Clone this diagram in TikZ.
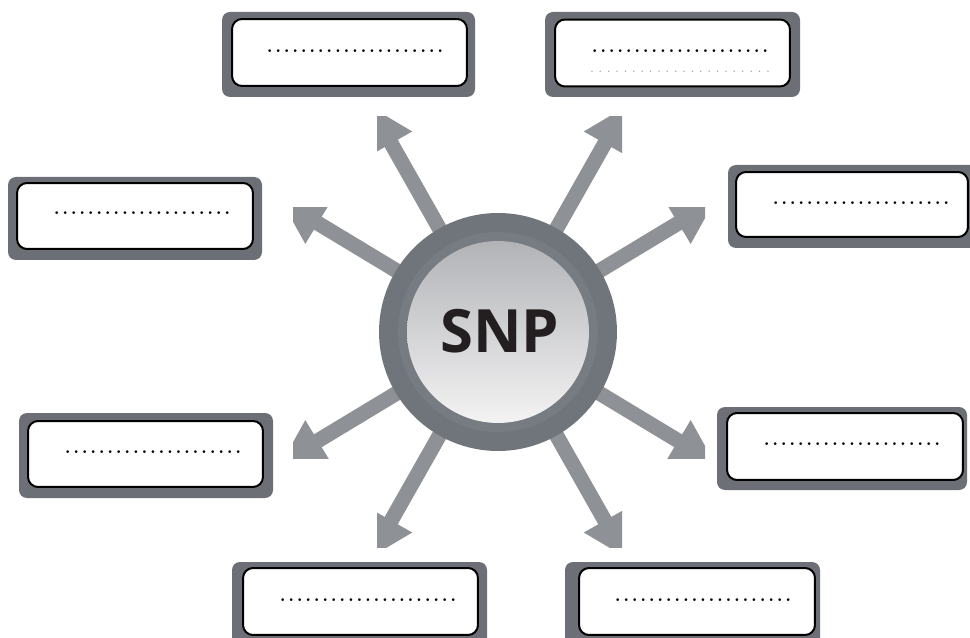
\documentclass[tikz,border=0pt]{standalone}
\usepackage{fontspec}
\newfontfamily\snpfont{Open Sans}
\usetikzlibrary{arrows.meta}
\definecolor{framegray}{HTML}{6C6F75}
\definecolor{arrowgray}{HTML}{8E9195}
\definecolor{ringdark}{HTML}{70747B}
\definecolor{ringmid}{HTML}{777B82}
\definecolor{snpink}{HTML}{231F20}
\definecolor{faintdot}{HTML}{9A9A9A}
\newcommand\mydotrow{\makebox[3.58cm]{.\hfill.\hfill.\hfill.\hfill.\hfill.\hfill.\hfill.\hfill.\hfill.\hfill.\hfill.\hfill.\hfill.\hfill.\hfill.\hfill.\hfill.\hfill.\hfill.\hfill.}}
\begin{document}
\begin{tikzpicture}[x=0.02cm,y=-0.02cm,
  outerframe/.style={fill=framegray, rounded corners=0.16cm},
  fieldbox/.style={draw=black, line width=0.04cm, fill=white, rounded corners=0.2cm, inner sep=0pt},
  dotrow/.style={font=\fontsize{19}{20}\selectfont, inner sep=0pt, text=black},
  faintrow/.style={font=\fontsize{7}{8}\selectfont, inner sep=0pt, text=faintdot},
  ray/.style={draw=arrowgray, line width=0.3cm, -{Triangle[length=0.86cm,width=0.9cm]}}]
\useasboundingbox (0,0) rectangle (970,638);

% ---------- arrows ----------
\coordinate (c) at (498,332);
\coordinate (ul) at (370,106);
\coordinate (ur) at (626,106);
\coordinate (dl) at (370,558);
\coordinate (dr) at (626,558);
\coordinate (lu) at (281,201);
\coordinate (ru) at (715,201);
\coordinate (ll) at (281,463);
\coordinate (rl) at (715,463);
\begin{scope}
  \clip (377,117) rectangle (622,547);
  \draw[ray] (c) -- (ul);
  \draw[ray] (c) -- (ur);
  \draw[ray] (c) -- (dl);
  \draw[ray] (c) -- (dr);
\end{scope}
\begin{scope}
  \clip (293,208) rectangle (705,458);
  \draw[ray] (c) -- (lu);
  \draw[ray] (c) -- (ru);
  \draw[ray] (c) -- (ll);
  \draw[ray] (c) -- (rl);
\end{scope}

% ---------- central circle ----------
\fill[ringdark] (c) circle[radius=2.38cm];
\fill[ringmid] (c) circle[radius=2.0cm];
\shade[top color={rgb,255:red,178;green,179;blue,183}, bottom color={rgb,255:red,243;green,243;blue,243}] (c) circle[radius=1.82cm];
\node[font=\snpfont\bfseries\fontsize{34}{40}\selectfont, text=snpink, inner sep=0pt] (snp) at (500,331) {SNP};

% ---------- boxes ----------
% 1 top left
\fill[outerframe] (222,12) rectangle (475,97);
\node[fieldbox, minimum width=4.7cm, minimum height=1.34cm] (b1) at (349.5,52.5) {};
\node[dotrow] (t1) at (355,51) {\mydotrow};
% 2 top right
\fill[outerframe] (545,12) rectangle (800,97);
\node[fieldbox, minimum width=4.7cm, minimum height=1.34cm] (b2) at (672.5,53) {};
\node[dotrow] (t2) at (680,51) {\mydotrow};
\node[faintrow] (t2b) at (680,72) {\makebox[3.6cm]{.\hfill.\hfill.\hfill.\hfill.\hfill.\hfill.\hfill.\hfill.\hfill.\hfill.\hfill.\hfill.\hfill.\hfill.\hfill.\hfill.\hfill.\hfill.\hfill.\hfill.\hfill.}};
% 3 left upper
\fill[outerframe] (8,177) rectangle (262,260);
\node[fieldbox, minimum width=4.72cm, minimum height=1.32cm] (b3) at (135,216) {};
\node[dotrow] (t3) at (142,213) {\mydotrow};
% 4 right upper
\fill[outerframe] (728,165) rectangle (980,248);
\node[fieldbox, minimum width=4.64cm, minimum height=1.3cm] (b4) at (852,204.5) {};
\node[dotrow] (t4) at (861,203) {\mydotrow};
% 5 left lower
\fill[outerframe] (19,413) rectangle (273,498);
\node[fieldbox, minimum width=4.7cm, minimum height=1.32cm] (b5) at (145.5,454) {};
\node[dotrow] (t5) at (153,452) {\mydotrow};
% 6 right lower
\fill[outerframe] (717,407) rectangle (967,490);
\node[fieldbox, minimum width=4.72cm, minimum height=1.34cm] (b6) at (845,446.5) {};
\node[dotrow] (t6) at (852,444) {\mydotrow};
% 7 bottom left
\fill[outerframe] (232,562) rectangle (487,660);
\node[fieldbox, minimum width=4.7cm, minimum height=1.34cm] (b7) at (360.5,601.5) {};
\node[dotrow] (t7) at (368,600) {\mydotrow};
% 8 bottom right
\fill[outerframe] (565,562) rectangle (820,660);
\node[fieldbox, minimum width=4.72cm, minimum height=1.34cm] (b8) at (697,601.5) {};
\node[dotrow] (t8) at (703,600) {\mydotrow};
\end{tikzpicture}
\end{document}
